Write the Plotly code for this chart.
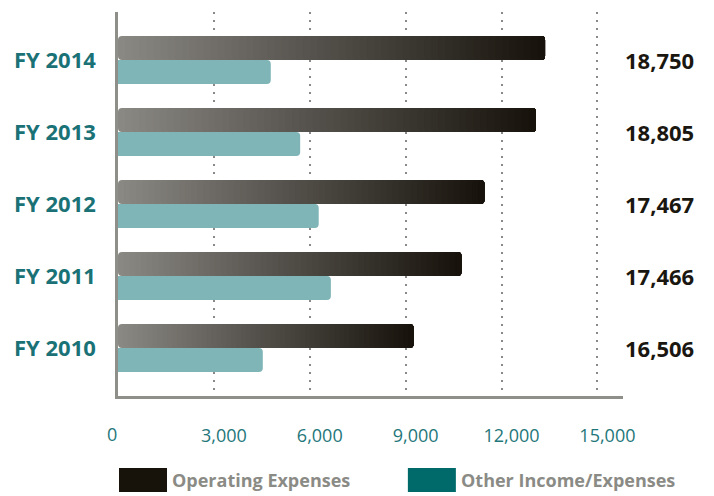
import plotly.graph_objects as go

# ---- data ----
years = ["FY 2014", "FY 2013", "FY 2012", "FY 2011", "FY 2010"]
operating_expenses = [13360, 13070, 11460, 10740, 9240]
other_income_expenses = [4780, 5700, 6280, 6660, 4530]
totals = ["18,750", "18,805", "17,467", "17,466", "16,506"]
tick_values = [3000, 6000, 9000, 12000, 15000]
tick_labels = ["3,000", "6,000", "9,000", "12,000", "15,000"]
series_names = ["Operating Expenses", "Other Income/Expenses"]

FONT = "Open Sans, DejaVu Sans, sans-serif"
TEAL_TEXT = "#1f777a"
GRAD_START = (138, 136, 131)
GRAD_END = (23, 19, 12)
N_SEG = 60

fig = go.Figure()

# gradient operating-expense bars: overlapping segments, each from a later start to the bar end
for k in range(N_SEG):
    t = k / (N_SEG - 1)
    r, g, b = (round(s + (e - s) * t) for s, e in zip(GRAD_START, GRAD_END))
    starts = [v * k / N_SEG for v in operating_expenses]
    lengths = [v - s for v, s in zip(operating_expenses, starts)]
    fig.add_trace(go.Bar(
        y=years, x=lengths, base=starts, orientation="h",
        offsetgroup="op", marker=dict(color=f"rgb({r},{g},{b})", line=dict(width=0)),
        showlegend=False, hoverinfo="skip",
    ))

fig.add_trace(go.Bar(
    y=years, x=other_income_expenses, orientation="h", offsetgroup="other",
    marker=dict(color="#80b5b8", line=dict(width=0)), showlegend=False,
    name=series_names[1],
))

# totals on the right
for yr, tot in zip(years, totals):
    fig.add_annotation(x=1.1446, xref="paper", y=yr, yref="y", text=f"<b>{tot}</b>",
                       showarrow=False, xanchor="right", yanchor="middle",
                       font=dict(family=FONT, size=22, color="#1a1610"))

# zero label
fig.add_annotation(x=0, xref="x", y=0, yref="paper", text="0", showarrow=False,
                   xanchor="center", yanchor="top", xshift=-6, yshift=-24,
                   font=dict(family=FONT, size=18, color=TEAL_TEXT))

# custom legend
legend_colors = ["#17130b", "#006a6a"]
legend_x0 = [0.002, 0.574]
for name, col, x0 in zip(series_names, legend_colors, legend_x0):
    fig.add_shape(type="rect", xref="paper", yref="paper",
                  x0=x0, x1=x0 + 48 / 505, y0=-(468 - 396) / 384, y1=-(492 - 396) / 384,
                  fillcolor=col, line=dict(width=0))
    fig.add_annotation(x=x0 + 51 / 505, xref="paper", y=-(480 - 396) / 384, yref="paper",
                       text=f"<b>{name}</b>",
                       showarrow=False, xanchor="left", yanchor="middle",
                       font=dict(family=FONT, size=18, color="#8b8b86"))

fig.update_layout(
    width=714, height=496,
    margin=dict(l=118, r=91, t=12, b=100, autoexpand=False),
    paper_bgcolor="white", plot_bgcolor="white",
    barmode="group", bargap=0.333, bargroupgap=0,
    barcornerradius=4,
    showlegend=False,
    xaxis=dict(range=[0, 15800], tickvals=tick_values, ticktext=tick_labels,
               showgrid=True, gridcolor="#8a8a8a", griddash="2px,6px", gridwidth=2,
               zeroline=False, showline=True, linecolor="#8f8f8a", linewidth=2.5,
               ticks="", ticklabelstandoff=22, ticklabelshift=10, automargin=False,
               tickfont=dict(family=FONT, size=18, color=TEAL_TEXT), fixedrange=True),
    yaxis=dict(categoryorder="array", categoryarray=years,
               range=[4.667, -0.667], showgrid=False, zeroline=False,
               showline=True, linecolor="#8f8f8a", linewidth=2.5, ticks="",
               ticklabelstandoff=15, automargin=False,
               tickfont=dict(family=FONT, size=22, color="#1a7276", weight="bold"),
               fixedrange=True),
)

fig.write_html("out.html", config={"displayModeBar": False},
               post_script="document.body.style.margin='0';document.body.style.overflow='hidden';")
